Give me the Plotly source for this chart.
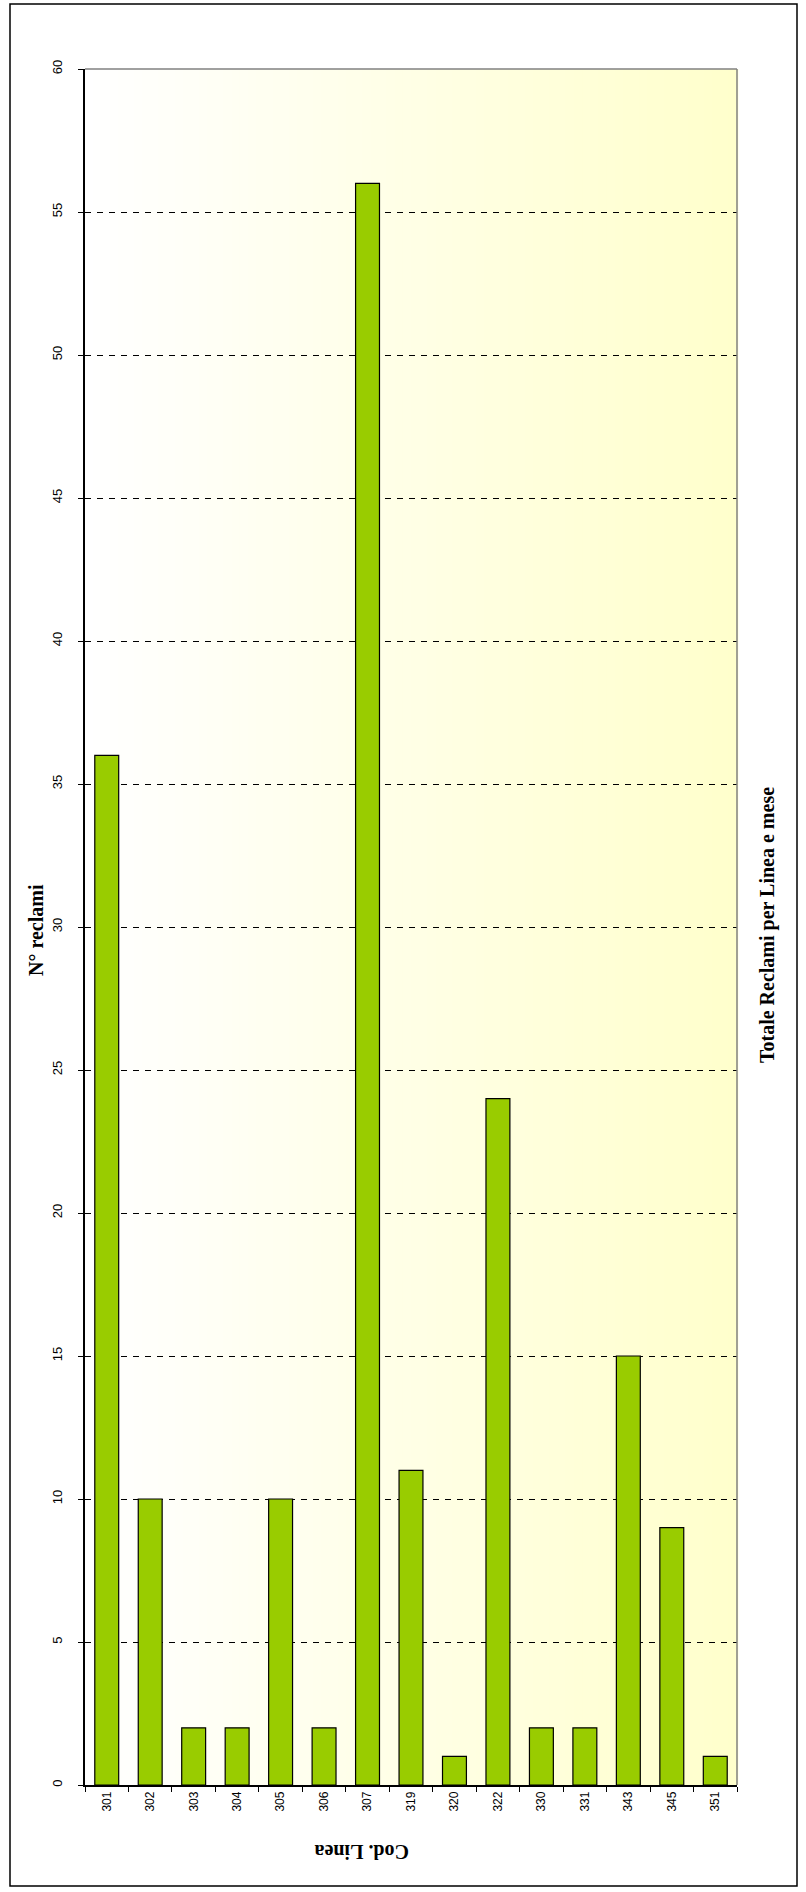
import plotly.graph_objects as go

# Complaints per bus line
linee = ["301", "302", "303", "304", "305", "306", "307", "319", "320",
         "322", "330", "331", "343", "345", "351"]
reclami = [36, 10, 2, 2, 10, 2, 56, 11, 1, 24, 2, 2, 15, 9, 1]
y_ticks = list(range(0, 61, 5))

W, H = 806, 1892
L, R, T, B = 85, 737, 69, 1785  # plot area in pixels


def px_x(x):
    return (x - L) / (R - L)


def px_y(y):
    return (B - y) / (B - T)


fig = go.Figure(go.Bar(
    x=linee, y=reclami,
    marker=dict(color="#99CC00", line=dict(color="#000000", width=1.2)),
    width=0.55,
))

shapes = []
# horizontal white -> light yellow gradient in the plot area
n = 80
c0 = (255, 255, 255)
c1 = (255, 255, 204)
for i in range(n):
    f = i / (n - 1)
    col = tuple(round(a + (b - a) * f) for a, b in zip(c0, c1))
    shapes.append(dict(type="rect", xref="x domain", yref="y domain",
                       x0=i / n, x1=(i + 1) / n + 0.002, y0=0, y1=1,
                       fillcolor="rgb(%d,%d,%d)" % col, line=dict(width=0),
                       layer="below"))
# gray plot border on top and right
shapes.append(dict(type="line", xref="x domain", yref="y domain", x0=0, x1=1, y0=1, y1=1,
                   line=dict(color="#808080", width=1.5), layer="above"))
shapes.append(dict(type="line", xref="x domain", yref="y domain", x0=1, x1=1, y0=0, y1=1,
                   line=dict(color="#808080", width=1.5), layer="above"))
# outer chart frame
shapes.append(dict(type="rect", xref="paper", yref="paper",
                   x0=px_x(10), x1=px_x(797), y0=px_y(1886), y1=px_y(4),
                   line=dict(color="#000000", width=1.5), fillcolor="rgba(0,0,0,0)",
                   layer="above"))

title_font = dict(family="Liberation Serif", size=20, color="#000000")
annotations = [
    dict(text="<b>N° reclami</b>", xref="paper", yref="paper",
         x=px_x(36), y=px_y(930), textangle=-90, showarrow=False,
         font=title_font, xanchor="center", yanchor="middle"),
    dict(text="<b>Totale Reclami per Linea e mese</b>", xref="paper", yref="paper",
         x=px_x(767), y=px_y(925), textangle=-90, showarrow=False,
         font=title_font, xanchor="center", yanchor="middle"),
    dict(text="<b>Cod. Linea</b>", xref="paper", yref="paper",
         x=px_x(362), y=px_y(1852), textangle=180, showarrow=False,
         font=title_font, xanchor="center", yanchor="middle"),
]

fig.update_layout(
    width=W, height=H,
    margin=dict(l=L, r=W - R, t=T, b=H - B, pad=0),
    paper_bgcolor="#FFFFFF",
    plot_bgcolor="rgba(0,0,0,0)",
    showlegend=False,
    shapes=shapes,
    annotations=annotations,
    bargap=0.45,
    xaxis=dict(
        type="category", tickangle=-90, tickson="boundaries",
        ticks="outside", ticklen=5, tickcolor="#000000",
        showline=True, linecolor="#000000", linewidth=1.5,
        showgrid=False,
        tickfont=dict(family="Liberation Sans", size=12, color="#000000"),
    ),
    yaxis=dict(
        range=[0, 60], tickvals=y_ticks, tickangle=-90,
        ticks="outside", ticklen=5, tickcolor="#000000",
        showline=True, linecolor="#000000", linewidth=1.5,
        showgrid=True, gridcolor="#000000", gridwidth=1, griddash="6px,6px",
        zeroline=False, ticklabelstandoff=11,
        tickfont=dict(family="Liberation Sans", size=13, color="#000000"),
    ),
)

fig.write_html("out.html")
